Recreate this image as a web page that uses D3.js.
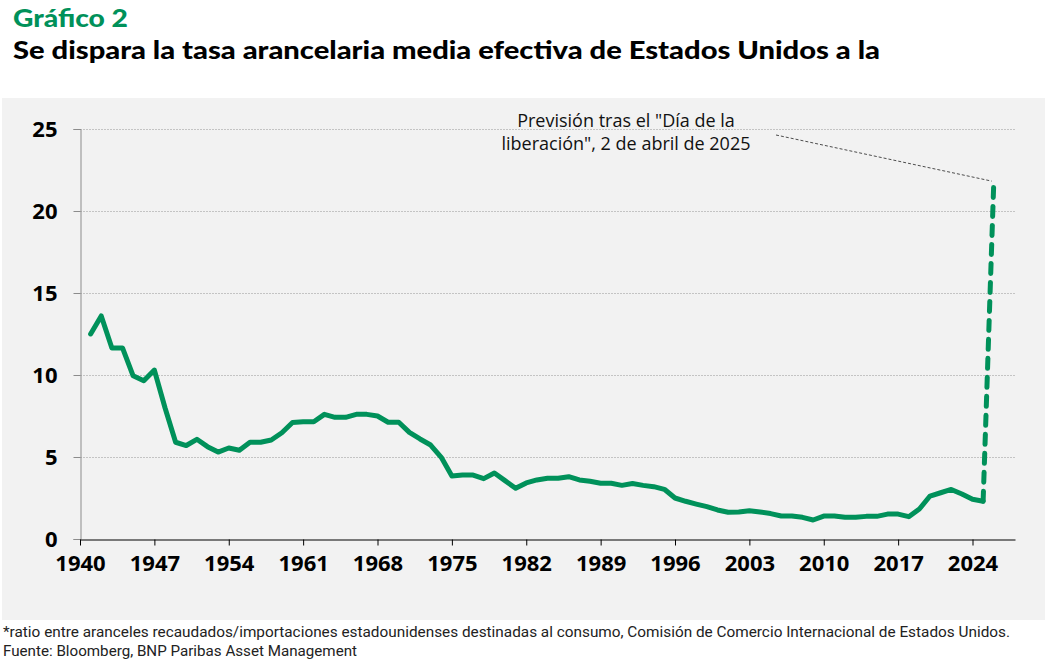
<!DOCTYPE html>
<html><head><meta charset="utf-8">
<script src="https://cdn.jsdelivr.net/npm/d3@7"></script>
<style>
html,body{margin:0;padding:0;background:#fff;}
svg{display:block;}
</style></head>
<body>
<svg id="c" width="1045" height="664"></svg>
<script>
const years = [1941,1942,1943,1944,1945,1946,1947,1948,1949,1950,1951,1952,1953,1954,1955,1956,1957,1958,1959,1960,1961,1962,1963,1964,1965,1966,1967,1968,1969,1970,1971,1972,1973,1974,1975,1976,1977,1978,1979,1980,1981,1982,1983,1984,1985,1986,1987,1988,1989,1990,1991,1992,1993,1994,1995,1996,1997,1998,1999,2000,2001,2002,2003,2004,2005,2006,2007,2008,2009,2010,2011,2012,2013,2014,2015,2016,2017,2018,2019,2020,2021,2022,2023,2024,2025];
const tariffRate = [12.5,13.6,11.65,11.65,9.95,9.65,10.3,8.0,5.9,5.7,6.08,5.63,5.3,5.55,5.41,5.9,5.9,6.04,6.48,7.1,7.15,7.15,7.6,7.42,7.42,7.6,7.6,7.5,7.12,7.12,6.5,6.1,5.73,4.98,3.84,3.9,3.9,3.68,4.02,3.56,3.09,3.42,3.6,3.7,3.7,3.8,3.6,3.52,3.4,3.4,3.27,3.38,3.27,3.19,3.03,2.5,2.3,2.13,1.97,1.77,1.63,1.65,1.72,1.65,1.55,1.4,1.4,1.32,1.16,1.4,1.4,1.32,1.32,1.38,1.38,1.52,1.52,1.36,1.83,2.62,2.82,3.02,2.74,2.42,2.3];
const forecastYears = [2025, 2026];
const forecastRate = [2.3, 21.7];
const xTicks = [1940,1947,1954,1961,1968,1975,1982,1989,1996,2003,2010,2017,2024];
const yTicks = [0,5,10,15,20,25];
const titleLabel = "Gráfico 2";
const subtitle = "Se dispara la tasa arancelaria media efectiva de Estados Unidos a la";
const annotation = ["Previsión tras el \"Día de la", "liberación\", 2 de abril de 2025"];
const footnotes = ["*ratio entre aranceles recaudados/importaciones estadounidenses destinadas al consumo, Comisión de Comercio Internacional de Estados Unidos.", "Fuente: Bloomberg, BNP Paribas Asset Management"];

const green = "#00915A";
const svg = d3.select("#c");

svg.append("rect").attr("x",2).attr("y",98).attr("width",1043).attr("height",522).attr("fill","#f2f2f2");

svg.append("text").attr("x",13).attr("y",27).attr("fill",green)
  .style("font-family","Lato,'Open Sans',sans-serif").style("font-weight","900").style("font-size","25px")
  .attr("textLength",115).attr("lengthAdjust","spacingAndGlyphs").text(titleLabel);
svg.append("text").attr("x",13).attr("y",59).attr("fill","#000")
  .style("font-family","Lato,'Open Sans',sans-serif").style("font-weight","900").style("font-size","25px")
  .attr("textLength",867).attr("lengthAdjust","spacingAndGlyphs").text(subtitle);

const x = d3.scaleLinear().domain([1940, 2028]).range([80, 1015]);
const y = d3.scaleLinear().domain([0, 25]).range([539, 129]);

// grid
svg.append("g").selectAll("line").data(yTicks.filter(d=>d>0)).join("line")
  .attr("x1",80).attr("x2",1015).attr("y1",d=>y(d)+0.5).attr("y2",d=>y(d)+0.5)
  .attr("stroke","#c4c4c4").attr("stroke-width",1).attr("stroke-dasharray","2,1");

// y axis
const yAxis = svg.append("g").attr("transform","translate(80.5,0)")
  .call(d3.axisLeft(y).tickValues(yTicks).tickSize(7).tickPadding(16));
yAxis.select(".domain").attr("stroke","#8c8c8c");
yAxis.selectAll(".tick line").attr("stroke","#8c8c8c");
yAxis.selectAll(".tick text").attr("fill","#000").style("font-family","'Open Sans',sans-serif").style("font-weight","700").style("font-size","22px").attr("dy","0.35em");

// x axis
const xAxis = svg.append("g").attr("transform","translate(0,539.5)")
  .call(d3.axisBottom(x).tickValues(xTicks).tickFormat(d3.format("d")).tickSize(6).tickSizeOuter(0).tickPadding(10));
xAxis.select(".domain").attr("stroke","#000").attr("stroke-width",1.2);
xAxis.selectAll(".tick line").attr("stroke","#000");
xAxis.selectAll(".tick text").attr("fill","#000").style("font-family","'Open Sans',sans-serif").style("font-weight","700").style("font-size","22px");

// line
const line = d3.line().x(d=>x(d[0])).y(d=>y(d[1]));
svg.append("path").datum(years.map((yr,i)=>[yr,tariffRate[i]]))
  .attr("d",line).attr("fill","none").attr("stroke",green).attr("stroke-width",5)
  .attr("stroke-linejoin","round").attr("stroke-linecap","round");
svg.append("path").datum(forecastYears.map((yr,i)=>[yr,forecastRate[i]]))
  .attr("d",line).attr("fill","none").attr("stroke",green).attr("stroke-width",5)
  .attr("stroke-dasharray","10,9").attr("stroke-linecap","round");

// annotation
const ann = svg.append("text").attr("text-anchor","middle")
  .style("font-family","'Open Sans',sans-serif").style("font-weight","500").style("font-size","18px").attr("fill","#111");
annotation.forEach((t,i)=>ann.append("tspan").attr("x",626).attr("y",127+i*23).text(t));
svg.append("line").attr("x1",776).attr("y1",135).attr("x2",x(2026)-2).attr("y2",y(21.7)-2)
  .attr("stroke","#222").attr("stroke-width",0.8).attr("stroke-dasharray","3,2");

// footnotes
const fw = [1007, 354];
footnotes.forEach((t,i)=>{
  svg.append("text").attr("x",3).attr("y",637+i*19).attr("fill","#222")
    .style("font-family","'Liberation Sans Narrow','Roboto',sans-serif").style("font-size","15px")
    .attr("textLength",fw[i]).attr("lengthAdjust","spacingAndGlyphs").text(t);
});
</script>
</body></html>
